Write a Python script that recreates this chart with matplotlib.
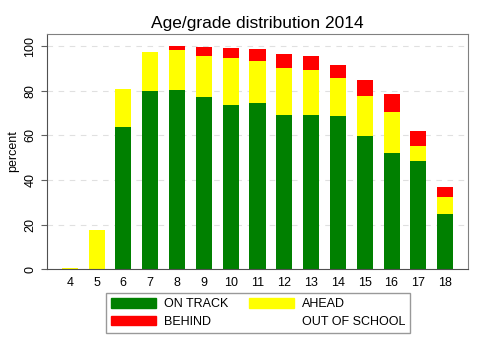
import numpy as np
import matplotlib
matplotlib.use("Agg")
import matplotlib.pyplot as plt
from matplotlib.patches import Patch

plt.rcParams['font.family'] = ['Liberation Sans', 'DejaVu Sans']

# данные: возраст и доли (%)
ages = [4, 5, 6, 7, 8, 9, 10, 11, 12, 13, 14, 15, 16, 17, 18]
on_track = [0.0, 0.0, 63.9, 79.9, 80.1, 77.3, 73.7, 74.5, 69.0, 69.1, 68.5, 59.6, 52.1, 48.4, 24.9]
ahead = [0.3, 17.6, 17.0, 17.6, 18.0, 18.2, 20.9, 18.8, 21.3, 20.2, 17.3, 18.2, 18.5, 6.7, 7.3]
behind = [0.0, 0.0, 0.0, 0.0, 1.9, 3.9, 4.5, 5.4, 6.0, 6.2, 5.7, 7.1, 7.9, 6.7, 4.7]

on_track = np.array(on_track)
ahead = np.array(ahead)
behind = np.array(behind)
out_school = 100 - on_track - ahead - behind

fig = plt.figure(figsize=(4.79, 3.5), dpi=100)
ax = fig.add_axes([0.098, 0.231, 0.879, 0.672])

w = 0.6
ax.bar(ages, on_track, width=w, color="#008000", zorder=2)
ax.bar(ages, ahead, width=w, bottom=on_track, color="#ffff00", zorder=2)
ax.bar(ages, behind, width=w, bottom=on_track + ahead, color="#ff0000", zorder=2)
ax.bar(ages, out_school, width=w, bottom=on_track + ahead + behind, color="none", zorder=2)

ax.set_xlim(3.15, 18.85)
ax.set_ylim(0, 105.4)
ax.set_xticks(ages)
ax.set_yticks([0, 20, 40, 60, 80, 100])
ax.tick_params(axis="x", length=0, labelsize=9, pad=6)
ax.tick_params(axis="y", length=4, labelsize=9, color="#606060", labelrotation=90)
for lab in ax.get_yticklabels():
    lab.set_va("center")
ax.yaxis.grid(True, color="#e0e0e0", linestyle=(0, (5, 5)), linewidth=0.8, zorder=0)
for s in ax.spines.values():
    s.set_color("#808080")
ax.spines["left"].set_color("#505050")
ax.spines["bottom"].set_color("#505050")

ax.set_ylabel("percent", fontsize=9, labelpad=4)
ax.set_title("Age/grade distribution 2014", fontsize=12.5, pad=4)

handles = [Patch(color="#008000"), Patch(color="#ffff00"),
           Patch(color="#ff0000"), Patch(facecolor="none", edgecolor="none")]
labels = ["ON TRACK", "AHEAD", "BEHIND", "OUT OF SCHOOL"]
# порядок: по строкам
leg = fig.legend([handles[0], handles[2], handles[1], handles[3]],
                 [labels[0], labels[2], labels[1], labels[3]],
                 ncol=2, loc="center", bbox_to_anchor=(0.539, 0.106),
                 fontsize=9, frameon=True, fancybox=False,
                 handlelength=3.6, handleheight=0.8, columnspacing=1.6,
                 labelspacing=0.45, borderpad=0.4, handletextpad=0.65)
leg.get_frame().set_edgecolor("#808080")
leg.get_frame().set_linewidth(1.0)

fig.savefig("out.png", dpi=100)
